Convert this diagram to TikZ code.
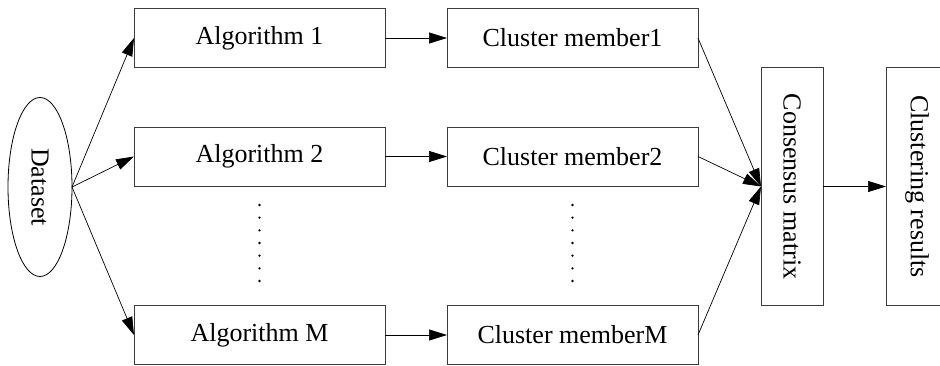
\documentclass[tikz,border=0pt]{standalone}
\usepackage{fontspec}
\setmainfont{Liberation Serif}
\usetikzlibrary{arrows.meta,shapes.geometric}
\begin{document}
\begin{tikzpicture}[x=1pt,y=1pt,
  box/.style={draw=drawColor,line width=0.8pt,inner sep=0pt,outer sep=0pt,
    font=\fontsize{26}{30}\selectfont},
  stepbox/.style={box,minimum width=251,minimum height=59},
  tallbox/.style={box,minimum width=62,minimum height=238},
  link/.style={draw=black,line width=0.7pt,-{Triangle[length=18pt,width=11pt]}}]
\definecolor{drawColor}{RGB}{60,60,60}
\clip (0,0) rectangle (940,365);
\path[fill=white] (0,0) rectangle (940,365);

\node[box,ellipse,draw=black,minimum width=64,minimum height=179] (data) at ( 40.00,178.00) {};
\node[rotate=-90,font=\fontsize{26}{30}\selectfont] at (data.center) {Dataset};

\node[stepbox] (alg1) at (259.50,327.00) {Algorithm 1};
\node[stepbox] (alg2) at (259.50,208.50) {Algorithm 2};
\node[stepbox] (algM) at (259.50, 30.00) {Algorithm M};

\node[stepbox] (mem1) at (572.50,327.00) {Cluster member1};
\node[stepbox] (mem2) at (572.50,208.50) {Cluster member2};
\node[stepbox] (memM) at (572.50, 30.00) {Cluster memberM};

\node[tallbox] (cons) at (792.00,178.50) {};
\node[rotate=-90,font=\fontsize{26}{30}\selectfont] at (cons.center) {Consensus matrix};
\node[tallbox] (res) at (917.00,178.50) {};
\node[rotate=-90,font=\fontsize{26}{30}\selectfont] at (res.center) {Clustering results};

% vertical dots
\foreach \k in {0,...,6} {
  \fill (alg2.south) ++(0,-19-12.67*\k) circle (1.3);
  \fill (mem2.south) ++(0,-19-12.67*\k) circle (1.3);
}

\draw[link] (data.east) -- (alg1.west);
\draw[link] (data.east) -- (alg2.west);
\draw[link] (data.east) -- (algM.west);

\draw[link] (alg1) -- (mem1);
\draw[link] (alg2) -- (mem2);
\draw[link] (algM) -- (memM);

\draw[link] (mem1.east) -- (cons.west);
\draw[link] (mem2.east) -- (cons.west);
\draw[link] (memM.east) -- (cons.west);

\draw[link] (cons) -- (res);
\end{tikzpicture}
\end{document}
